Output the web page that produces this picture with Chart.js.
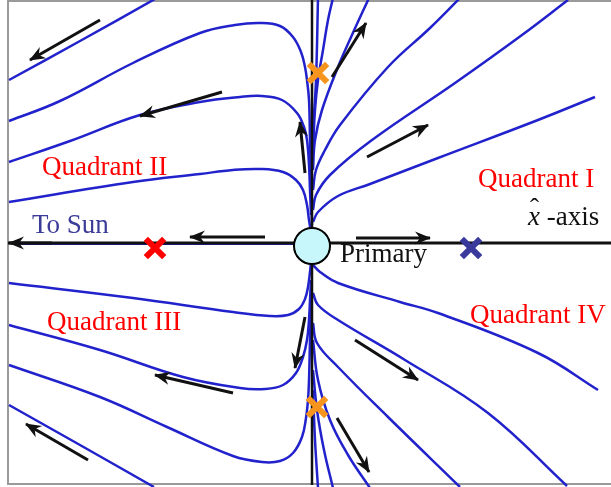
<!DOCTYPE html>
<html>
<head>
<meta charset="utf-8">
<script src="https://cdn.jsdelivr.net/npm/chart.js@4"></script>
<style>
  body { margin: 0; background: #fff; }
  canvas { display: block; }
</style>
</head>
<body>
<canvas id="flowChart" width="611" height="487"></canvas>
<script>
// trajectories, x to the right and y up, origin at the primary
const q2a = [[-303,163],[-232,202],[-157,244]];
const q2b = [[-303,122],[-252,142],[-179,180],[-112,210],[-77,218],[-52,220],[-32,217],[-19,206],[-11,191],[-7,176],[-5,163],[-3,143],[-2,103],[-1,53],[0,18]];
const q2c = [[-303,81],[-242,102],[-172,128],[-112,141],[-72,146],[-50,147],[-30,143],[-15,130],[-8,116],[-5,103],[-3,78],[-2,53],[-1,28]];
const q2d = [[-303,41],[-179,61],[-112,69],[-79,73],[-52,74],[-29,71],[-16,63],[-9,53],[-5,38],[-3,23],[-1,11]];

const q3a = [[-303,-40],[-179,-55],[-79,-69],[-42,-73],[-24,-72],[-13,-66],[-7,-56],[-4,-44],[-2,-29],[-1,-19]];
const q3b = [[-303,-82],[-212,-107],[-129,-134],[-72,-145],[-47,-146],[-29,-142],[-16,-130],[-9,-114],[-5,-97],[-3,-77],[-2,-57],[-1,-37]];
const q3c = [[-303,-122],[-212,-154],[-145,-184],[-79,-213],[-50,-219],[-32,-218],[-19,-210],[-10,-194],[-6,-175],[-4,-157],[-3,-137],[-2,-97],[-1,-57]];
const q3d = [[-303,-162],[-232,-202],[-158,-244]];

const q1a = [[1,21],[6,31],[26,47],[58,59],[126,85],[226,123],[283,146]];
const q1b = [[1,33],[4,48],[18,68],[60,103],[143,160],[210,208],[256,243]];
const q1c = [[1,53],[4,73],[13,93],[28,118],[76,176],[118,215],[148,245]];
const q1d = [[1,73],[3,103],[10,133],[26,176],[40,208],[57,245]];
const q1e = [[1,93],[3,133],[6,163],[11,193],[16,223],[21,245]];
const q1f = [[1,113],[4,163],[6,245]];

const q4a = [[1,-22],[8,-29],[26,-40],[88,-59],[126,-70],[226,-110],[286,-147]];
const q4b = [[1,-50],[6,-62],[26,-77],[93,-117],[176,-170],[255,-243]];
const q4c = [[1,-80],[5,-100],[26,-124],[76,-174],[148,-244]];
const q4d = [[1,-97],[6,-137],[18,-177],[36,-212],[58,-245]];
const q4e = [[1,-127],[5,-167],[12,-207],[21,-245]];
const q4f = [[1,-147],[3,-197],[6,-245]];

const xAxisLine = [[-304,0],[299,0]];
const yAxisLine = [[0,243],[0,-242]];

// arrows: tail then head
const arrows = [
  [[-212,223],[-282,183]],
  [[-90,151],[-172,127]],
  [[-7,70],[-12,121]],
  [[-47,6],[-122,6]],
  [[44,5],[118,5]],
  [[20,166],[54,220]],
  [[55,86],[116,118]],
  [[43,-97],[106,-137]],
  [[25,-175],[57,-229]],
  [[-7,-74],[-17,-125]],
  [[-79,-150],[-157,-132]],
  [[-224,-217],[-286,-181]],
  [[-260,0],[-303,0]]
];

const primary = [0,-3];
const crossPoints = [[6,170],[5,-164]];   // orange
const sunCross = [-157,-5];               // red
const farCross = [159,-5];                // blue

const labels = [
  { text: 'Quadrant II', x: -270, y: 68, color: '#ff0000' },
  { text: 'Quadrant I', x: 166, y: 56, color: '#ff0000' },
  { text: 'Quadrant III', x: -265, y: -87, color: '#ff0000' },
  { text: 'Quadrant IV', x: 158, y: -80, color: '#ff0000' },
  { text: 'To Sun', x: -280, y: 10, color: '#3b3b98' },
  { text: 'Primary', x: 28, y: -19, color: '#111' }
];

const BLUE = '#2222cc';
const toXY = pts => pts.map(([x, y]) => ({ x, y }));

const curveSet = [q2a, q2b, q2c, q2d, q3a, q3b, q3c, q3d, q1a, q1b, q1c, q1d, q1e, q1f, q4a, q4b, q4c, q4d, q4e, q4f];

const datasets = [];

// circle on top
datasets.push({
  data: toXY([primary]), pointRadius: 18, pointHoverRadius: 18,
  backgroundColor: '#c8f7fb', borderColor: '#000', borderWidth: 2, order: 0
});
datasets.push({
  data: toXY(crossPoints), pointStyle: 'crossRot', pointRadius: 13, borderColor: '#f7941d', borderWidth: 6, order: 1
});
datasets.push({
  data: toXY([sunCross]), pointStyle: 'crossRot', pointRadius: 13, borderColor: '#ff0000', borderWidth: 6, order: 1
});
datasets.push({
  data: toXY([farCross]), pointStyle: 'crossRot', pointRadius: 13, borderColor: '#3a3a9c', borderWidth: 6, order: 1
});
arrows.forEach(a => datasets.push({
  data: toXY(a), showLine: true, borderColor: '#111', borderWidth: 3, pointRadius: 0, arrow: true, order: 2
}));
datasets.push({ data: toXY(xAxisLine), showLine: true, borderColor: '#111', borderWidth: 3, pointRadius: 0, order: 3 });
datasets.push({ data: toXY(yAxisLine), showLine: true, borderColor: '#111', borderWidth: 2.5, pointRadius: 0, order: 3 });
datasets.push({ data: toXY([[-300,-1],[0,-1]]), showLine: true, borderColor: BLUE, borderWidth: 2, pointRadius: 0, order: 4 });
curveSet.forEach(c => datasets.push({
  data: toXY(c), showLine: true, borderColor: BLUE, borderWidth: 2.5, pointRadius: 0, tension: 0.4, order: 5
}));

const framePlugin = {
  id: 'frame',
  beforeDatasetsDraw(chart) {
    const { ctx, scales: { x, y } } = chart;
    ctx.save();
    ctx.strokeStyle = '#9a9a9a';
    ctx.lineWidth = 2;
    ctx.beginPath();
    ctx.moveTo(x.getPixelForValue(310), y.getPixelForValue(242));
    ctx.lineTo(x.getPixelForValue(-304), y.getPixelForValue(242));
    ctx.lineTo(x.getPixelForValue(-304), y.getPixelForValue(-241));
    ctx.lineTo(x.getPixelForValue(310), y.getPixelForValue(-241));
    ctx.stroke();
    ctx.restore();
  }
};

const arrowHeads = {
  id: 'arrowHeads',
  afterDatasetsDraw(chart) {
    const ctx = chart.ctx;
    chart.data.datasets.forEach((ds, i) => {
      if (!ds.arrow) return;
      const pts = chart.getDatasetMeta(i).data;
      const a = pts[pts.length - 2], b = pts[pts.length - 1];
      const ang = Math.atan2(b.y - a.y, b.x - a.x);
      ctx.save();
      ctx.translate(b.x, b.y);
      ctx.rotate(ang);
      ctx.beginPath();
      ctx.moveTo(1, 0);
      ctx.lineTo(-15, -6.5);
      ctx.lineTo(-10, 0);
      ctx.lineTo(-15, 6.5);
      ctx.closePath();
      ctx.fillStyle = '#111';
      ctx.fill();
      ctx.restore();
    });
  }
};

const textLabels = {
  id: 'textLabels',
  afterDatasetsDraw(chart) {
    const { ctx, scales: { x, y } } = chart;
    ctx.save();
    ctx.textBaseline = 'alphabetic';
    ctx.font = '27px "Liberation Serif", serif';
    labels.forEach(l => {
      ctx.fillStyle = l.color;
      ctx.fillText(l.text, x.getPixelForValue(l.x), y.getPixelForValue(l.y));
    });
    // x-hat axis label
    const lx = x.getPixelForValue(216), ly = y.getPixelForValue(18);
    ctx.fillStyle = '#111';
    ctx.font = 'italic 27px "Liberation Serif", serif';
    ctx.fillText('x', lx, ly);
    ctx.font = '27px "Liberation Serif", serif';
    ctx.fillText('\u02C6', lx + 2, ly - 8);
    ctx.fillText(' -axis', lx + 12, ly);
    ctx.restore();
  }
};

new Chart(document.getElementById('flowChart'), {
  type: 'scatter',
  data: { datasets },
  options: {
    responsive: false,
    animation: false,
    devicePixelRatio: 1,
    layout: { padding: 0, autoPadding: false },
    plugins: { legend: { display: false }, tooltip: { enabled: false } },
    scales: {
      x: { type: 'linear', min: -312, max: 299, display: false },
      y: { type: 'linear', min: -244, max: 243, display: false }
    }
  },
  plugins: [framePlugin, arrowHeads, textLabels]
});
</script>
</body>
</html>
